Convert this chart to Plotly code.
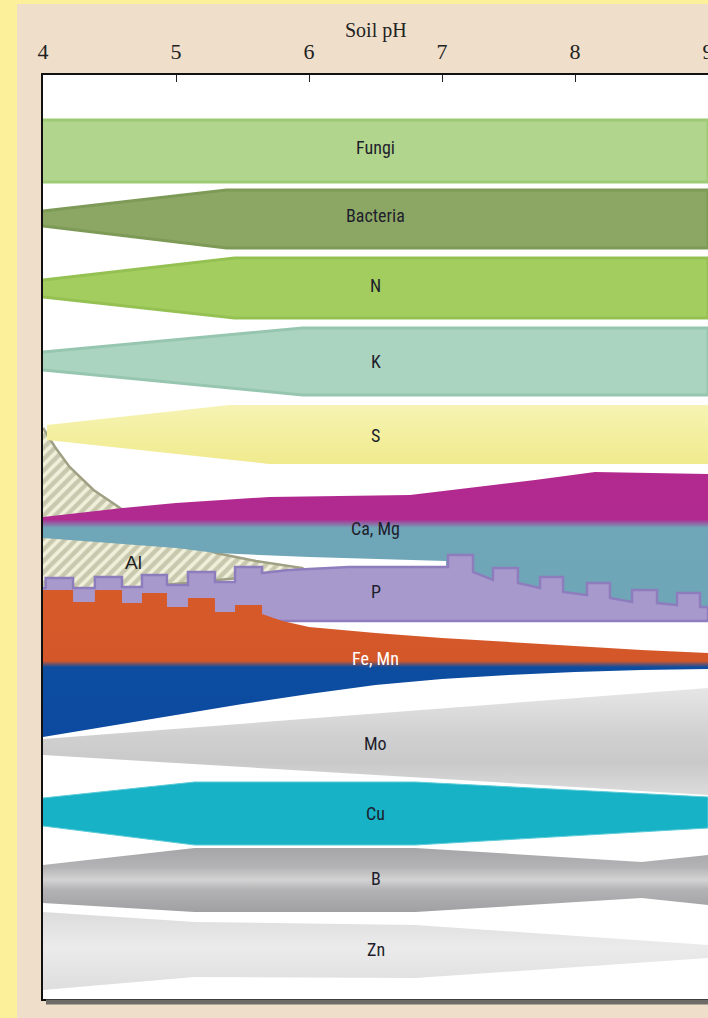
import plotly.graph_objects as go

# ---------------- data (pH on x, band edges on a top-down vertical scale) ----------------
PH_TICKS = [4, 5, 6, 7, 8, 9]
TICK_TEXT = ["4", "5", "6", "7", "8", "9"]

fungi_ph = [4.0, 9.0]
fungi_top = [120, 120]
fungi_bot = [182, 182]

bacteria_ph = [4.0, 5.38, 9.0]
bacteria_top = [211, 190, 190]
bacteria_bot = [226, 248, 248]

n_ph = [4.0, 5.44, 9.0]
n_top = [280, 258, 258]
n_bot = [297, 318, 318]

k_ph = [4.0, 5.95, 9.0]
k_top = [352, 328, 328]
k_bot = [370, 395, 395]

s_top_ph = [4.03, 5.4, 9.0]
s_top = [425, 405, 405]
s_bot_ph = [4.03, 5.7, 9.0]
s_bot = [440, 464, 464]

al_top_ph = [4.0, 4.09, 4.2, 4.38, 4.58, 4.8, 5.05, 5.3, 5.6, 5.95]
al_top = [428, 447, 467, 490, 508, 525, 540, 553, 561, 568]
al_bot_ph = [4.0, 5.65, 5.95]
al_bot = [596, 576, 570]

camg_top_ph = [4.0, 4.6, 5.0, 5.7, 6.76, 7.2, 7.7, 8.15, 9.0]
camg_top = [517, 508, 503, 497, 495, 488, 480, 472, 474]
camg_bot_ph = [4.0, 4.5, 5.0, 5.3, 6.0, 6.5, 7.03, 7.04, 9.0]
camg_bot = [538, 543, 548, 553, 557, 559, 561, 600, 615]

p_top_ph = [4.0, 4.02, 4.02, 4.226, 4.226, 4.39, 4.39, 4.594, 4.594, 4.744,
            4.744, 4.932, 4.932, 5.09, 5.09, 5.293, 5.293, 5.444, 5.444, 5.647,
            5.647, 5.85, 6.3, 6.91, 7.045, 7.045, 7.233, 7.233, 7.383, 7.383,
            7.571, 7.571, 7.737, 7.737, 7.91, 7.91, 8.09, 8.09, 8.263, 8.263,
            8.429, 8.429, 8.617, 8.617, 8.767, 8.767, 8.94, 8.94, 9.0]
p_top = [588, 588, 578, 578, 588, 588, 577, 577, 587, 587,
         575, 575, 585, 585, 572, 572, 582, 582, 567, 567,
         573, 570, 567, 567, 567, 555, 555, 572, 580, 568,
         568, 583, 588, 577, 577, 592, 595, 583, 583, 598,
         602, 590, 590, 603, 605, 593, 593, 607, 607]
p_bot_ph = [4.0, 5.65, 9.0]
p_bot = [618, 621, 621]

fe_top_ph = [4.0, 4.226, 4.226, 4.39, 4.39, 4.594, 4.594, 4.744, 4.744, 4.932,
             4.932, 5.09, 5.09, 5.293, 5.293, 5.444, 5.444, 5.647, 5.647, 5.8,
             6.0, 6.5, 7.0, 7.5, 8.0, 8.5, 9.0]
fe_top = [590, 590, 602, 602, 590, 590, 603, 603, 593, 593,
          607, 607, 598, 598, 612, 612, 605, 605, 614, 621,
          627, 633, 638, 642, 646, 650, 653]
fe_bot_ph = [4.0, 4.5, 5.0, 5.5, 6.0, 6.5, 7.0, 7.5, 8.0, 8.5, 9.0]
fe_bot = [737, 726, 715, 704, 694, 685, 679, 675, 672, 670, 669]

mo_ph = [4.0, 9.0]
mo_top = [739, 688]
mo_bot = [755, 795]

cu_ph = [4.0, 5.14, 6.8, 9.0]
cu_top = [798, 782, 782, 797]
cu_bot = [826, 845, 845, 828]

b_ph = [4.0, 5.14, 6.8, 8.5, 9.0]
b_top = [865, 848, 848, 862, 855]
b_bot = [903, 912, 912, 898, 905]

zn_ph = [4.0, 5.14, 6.8, 9.0]
zn_top = [912, 922, 925, 945]
zn_bot = [990, 977, 978, 958]

LABELS = ["Fungi", "Bacteria", "N", "K", "S", "Ca, Mg", "P", "Fe, Mn", "Mo", "Cu", "B", "Zn"]
LABEL_Y = [147, 215, 285, 361, 435, 528, 591, 658, 743, 813, 878, 949]
LABEL_PH = 6.5
AL_LABEL = ("Al", 4.68, 562)

# ---------------- figure ----------------
fig = go.Figure()


def add_band(tx, ty, bx, by, fillcolor=None, line_color=None, line_width=0,
             gradient=None, pattern=None):
    xs = list(tx) + list(reversed(bx))
    ys = list(ty) + list(reversed(by))
    kw = dict(x=xs, y=ys, mode="lines", fill="toself", hoverinfo="skip",
              showlegend=False,
              line=dict(color=line_color or "rgba(0,0,0,0)", width=line_width))
    if fillcolor:
        kw["fillcolor"] = fillcolor
    if gradient:
        kw["fillgradient"] = gradient
    if pattern:
        kw["fillpattern"] = pattern
    fig.add_trace(go.Scatter(**kw))


add_band(fungi_ph, fungi_top, fungi_ph, fungi_bot, "#b2d58d", "#9dca74", 3)
add_band(bacteria_ph, bacteria_top, bacteria_ph, bacteria_bot, "#8ca764", "#7d9a57", 3)
add_band(n_ph, n_top, n_ph, n_bot, "#a4cd60", "#94c152", 3)
add_band(k_ph, k_top, k_ph, k_bot, "#abd4c0", "#97c6b0", 3)
add_band(al_top_ph, al_top, al_bot_ph, al_bot, "#efefd8", "#a0a084", 2.5,
         pattern=dict(shape="/", bgcolor="#f0f0da", fgcolor="#a0a084",
                      size=8, solidity=0.55))
add_band(s_top_ph, s_top, s_bot_ph, s_bot, None, None, 0,
         gradient=dict(type="vertical", start=405, stop=465,
                       colorscale=[[0, "#f6f3b4"], [0.5, "#f3ef9f"], [1, "#f0ea8e"]]))
add_band(camg_top_ph, camg_top, camg_bot_ph, camg_bot, None, None, 0,
         gradient=dict(type="vertical", start=470, stop=620,
                       colorscale=[[0, "#b3298e"], [0.33, "#b02a90"],
                                   [0.385, "#6fa6b8"], [1, "#6ea6b7"]]))
add_band(p_top_ph, p_top, p_bot_ph, p_bot, "#a899cd", "#8d7dbd", 2.5)
add_band(fe_top_ph, fe_top, fe_bot_ph, fe_bot, None, None, 0,
         gradient=dict(type="vertical", start=585, stop=740,
                       colorscale=[[0, "#d75a29"], [0.49, "#d4572a"],
                                   [0.53, "#0d4da0"], [1, "#0b4aa0"]]))
add_band(mo_ph, mo_top, mo_ph, mo_bot, None, None, 0,
         gradient=dict(type="vertical", start=688, stop=795,
                       colorscale=[[0, "#e6e6e6"], [0.45, "#d0d0d0"],
                                   [0.7, "#c9c9c9"], [1, "#dcdcdc"]]))
add_band(cu_ph, cu_top, cu_ph, cu_bot, "#17b2c5", "#5ccbd8", 1)
add_band(b_ph, b_top, b_ph, b_bot, None, None, 0,
         gradient=dict(type="vertical", start=848, stop=912,
                       colorscale=[[0, "#a6a6a8"], [0.3, "#b3b3b5"], [0.5, "#d3d3d4"],
                                   [0.65, "#b3b3b5"], [1, "#a0a0a2"]]))
add_band(zn_ph, zn_top, zn_ph, zn_bot, None, None, 0,
         gradient=dict(type="vertical", start=912, stop=990,
                       colorscale=[[0, "#dcdcdc"], [0.45, "#ebebeb"], [1, "#dedede"]]))

LABEL_FONT = "Liberation Sans Narrow, Roboto Condensed, Roboto, sans-serif"
for txt, y in zip(LABELS, LABEL_Y):
    white = txt == "Fe, Mn"
    fig.add_annotation(x=LABEL_PH, y=y, xref="x", yref="y", text=txt, showarrow=False,
                       font=dict(family=LABEL_FONT, size=18,
                                 color="#ffffff" if white else "#1e1e2c"))
fig.add_annotation(x=AL_LABEL[1], y=AL_LABEL[2], xref="x", yref="y", text=AL_LABEL[0],
                   showarrow=False, font=dict(family="Liberation Sans, Arial", size=19,
                                              color="#1e1e1e"))

# axis title
fig.add_annotation(x=0.5, y=(999 - 31) / 924, xref="paper", yref="paper", text="Soil pH",
                   showarrow=False, yanchor="middle", xanchor="center",
                   font=dict(family="Liberation Serif", size=20, color="#222222"))

# decorative frame: yellow strips, shadow
L, W, T, H = 43, 665, 75, 924
def px_x(p):
    return (p - L) / W
def px_y(p):
    return (T + H - p) / H

fig.add_shape(type="rect", xref="paper", yref="paper", x0=px_x(0), x1=px_x(17),
              y0=px_y(1018), y1=px_y(0), fillcolor="#fcf19a", line_width=0, layer="below")
fig.add_shape(type="rect", xref="paper", yref="paper", x0=px_x(0), x1=px_x(708),
              y0=px_y(4), y1=px_y(0), fillcolor="#fcf19a", line_width=0, layer="below")
fig.add_shape(type="rect", xref="paper", yref="paper", x0=px_x(46), x1=1.0,
              y0=px_y(1004.5), y1=px_y(999.5), fillcolor="#6f6b66", line_width=0)

fig.update_layout(
    width=708, height=1018,
    margin=dict(l=43, r=0, t=75, b=19, pad=0, autoexpand=False),
    paper_bgcolor="#efdfca",
    plot_bgcolor="#ffffff",
    showlegend=False,
    xaxis=dict(range=[4, 9], side="top", tickvals=PH_TICKS, ticktext=TICK_TEXT,
               ticks="inside", ticklen=7, tickwidth=1, tickcolor="#222",
               showgrid=False, zeroline=False, showline=True, linecolor="#111",
               linewidth=1.5, mirror=True, ticklabelstandoff=5,
               ticklabeloverflow="allow", automargin=False,
               tickfont=dict(family="Liberation Serif", size=22, color="#222")),
    yaxis=dict(range=[999, 75], showgrid=False, zeroline=False, showticklabels=False,
               ticks="", showline=True, linecolor="#111", linewidth=1.5,
               automargin=False),
)

fig.write_html("out.html", config={"displayModeBar": False},
               post_script="document.body.style.margin='0';"
                           "document.body.style.overflow='hidden';")
